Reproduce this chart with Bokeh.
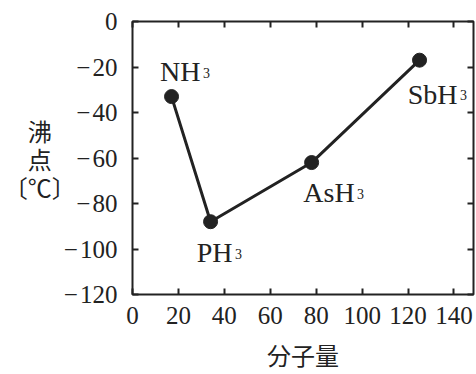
from bokeh.plotting import figure
from bokeh.models import LinearAxis, FixedTicker, ColumnDataSource, Range1d
from bokeh.embed import file_html
from bokeh.resources import INLINE
from bokeh.core.properties import value

# ---- data ----
compounds = ["NH", "PH", "AsH", "SbH"]
subscripts = ["3", "3", "3", "3"]
molar_mass = [17, 34, 78, 125]
boiling_point = [-33, -88, -62, -17]

x_ticks = [0, 20, 40, 60, 80, 100, 120, 140]
x_tick_labels = ["0", "20", "40", "60", "80", "100", "120", "140"]
y_ticks = [0, -20, -40, -60, -80, -100, -120]
y_tick_labels = ["0", "\u2212\u200a20", "\u2212\u200a40", "\u2212\u200a60", "\u2212\u200a80",
                 "\u2212\u200a100", "\u2212\u200a120"]

# label placement (screen px offsets from each point)
label_dx = [29, 22, 43, 38]
label_dy = [-25, 31, 30, 34]

INK = "#222222"
SERIF = "Liberation Serif"
CJK = "Noto Sans CJK JP"

p = figure(width=476, height=374, output_backend="svg", toolbar_location=None,
           x_axis_type=None, y_axis_type=None,
           x_range=Range1d(0, 148.5), y_range=Range1d(-120, 0),
           min_border_left=132, min_border_right=3, min_border_top=21, min_border_bottom=79)
p.xgrid.visible = False
p.ygrid.visible = False
p.outline_line_color = INK
p.outline_line_width = 2
p.background_fill_color = "white"
p.border_fill_color = "white"

def make_axis(ticks, labels, show_labels):
    ax = LinearAxis(ticker=FixedTicker(ticks=ticks))
    ax.minor_tick_line_color = None
    ax.major_tick_in = 6
    ax.major_tick_out = 0
    ax.major_tick_line_color = INK
    ax.major_tick_line_width = 2
    ax.axis_line_color = None
    ax.major_label_text_font = SERIF
    ax.major_label_text_color = INK
    if show_labels:
        ax.major_label_overrides = {t: l for t, l in zip(ticks, labels)}
        ax.major_label_text_font_size = "25px"
        ax.major_label_standoff = 15
    else:
        ax.major_label_overrides = {t: "" for t in ticks}
        ax.major_label_text_font_size = "0px"
        ax.major_label_standoff = 0
    return ax

bottom = make_axis(x_ticks, x_tick_labels, True)
left = make_axis(y_ticks, y_tick_labels, True)
top = make_axis(x_ticks, x_tick_labels, False)
right = make_axis(y_ticks, y_tick_labels, False)
bottom.major_label_standoff = 12

bottom.axis_label = "分子量"
bottom.axis_label_text_font = CJK
bottom.axis_label_text_font_size = "24px"
bottom.axis_label_text_font_style = "normal"
bottom.axis_label_text_color = INK
bottom.axis_label_standoff = 10

# ideographic spaces keep the single characters centred over 〔℃〕
left.axis_label = "沸\u3000\n点\u3000\n〔℃〕"
left.axis_label_orientation = "horizontal"
left.axis_label_text_font = CJK
left.axis_label_text_font_size = "24px"
left.axis_label_text_font_style = "normal"
left.axis_label_text_color = INK
left.axis_label_text_line_height = 0.8
left.axis_label_standoff = -15

p.add_layout(bottom, "below")
p.add_layout(left, "left")
p.add_layout(top, "above")
p.add_layout(right, "right")

src = ColumnDataSource(dict(
    x=molar_mass, y=boiling_point, name=compounds, sub=subscripts,
    dx=label_dx, dy=label_dy,
    sdx=[d + 2.5 for d in label_dx], sdy=[d + 1 for d in label_dy],
))

p.line("x", "y", source=src, line_color=INK, line_width=3)
p.scatter("x", "y", source=src, size=14, fill_color=INK, line_color=INK)

p.text("x", "y", text="name", source=src, x_offset="dx", y_offset="dy",
       text_font=value(SERIF), text_font_size="28px", text_color=INK,
       text_align="right", text_baseline="alphabetic")
p.text("x", "y", text="sub", source=src, x_offset="sdx", y_offset="sdy",
       text_font=value(SERIF), text_font_size="14px", text_color=INK,
       text_align="left", text_baseline="alphabetic")

open("out.html", "w").write(file_html(p, INLINE))
